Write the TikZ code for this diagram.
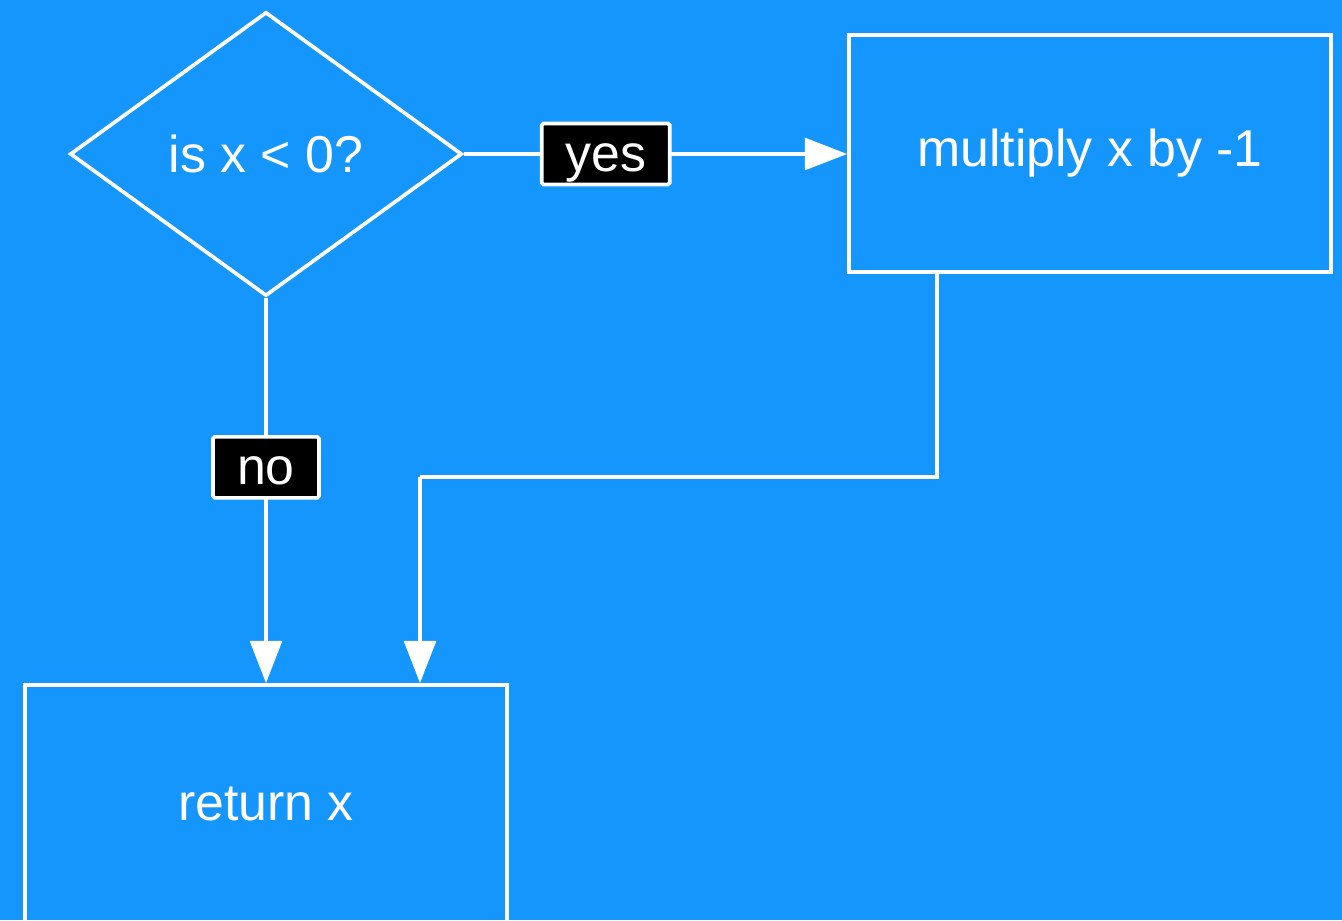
\documentclass[tikz,border=0pt]{standalone}
\usepackage{fontspec}
\setmainfont{Liberation Sans}
\usetikzlibrary{shapes.geometric,arrows.meta,calc}
\definecolor{bg}{RGB}{21,150,252}
\tikzset{
  flowline/.style={draw=white, line width=2.1pt},
  flowarrow/.style={flowline, -{Triangle[width=18pt,length=24pt]}},
  decision/.style={diamond, draw=white, line width=2.1pt, minimum width=392*0.02cm, minimum height=284*0.02cm, inner sep=0pt, text=white, font=\fontsize{29.5}{34}\selectfont, aspect=1.38},
  process/.style={rectangle, draw=white, line width=2.1pt, minimum width=482*0.02cm, minimum height=237*0.02cm, inner sep=0pt, text=white, font=\fontsize{29.5}{34}\selectfont},
  tag/.style={rectangle, fill=black, draw=white, line width=2.1pt, rounded corners=1pt, text=white, font=\fontsize{29.5}{34}\selectfont, minimum height=61*0.02cm, inner sep=0pt, text height=20pt, text depth=0pt}
}
\begin{document}
\begin{tikzpicture}[x=0.02cm,y=0.02cm]
  \fill[bg] (0,0) rectangle (1342,920);
  \useasboundingbox (0,0) rectangle (1342,920);
  % nodes
  \node[decision] (test) at (266,766) {is x < 0?};
  \node[process] (mult) at (1090,766.5) {multiply x by -1};
  \node[process] (ret) at (266,116.5) {return x};
  % connectors
  \coordinate (bend1) at (937,443);
  \coordinate (bend2) at (420,443);
  \draw[flowarrow] (test.east) -- (test.east -| mult.west)
    node[tag, pos=0.37, minimum width=128*0.02cm] (yes) {yes};
  \draw[flowarrow] (test.south) -- (test.south |- ret.north)
    node[tag, pos=0.44, minimum width=106*0.02cm] (no) {no};
  \draw[flowline] (bend1 |- mult.south) -- (bend1) -- (bend2);
  \draw[flowarrow] (bend2) -- (bend2 |- ret.north);
\end{tikzpicture}
\end{document}
